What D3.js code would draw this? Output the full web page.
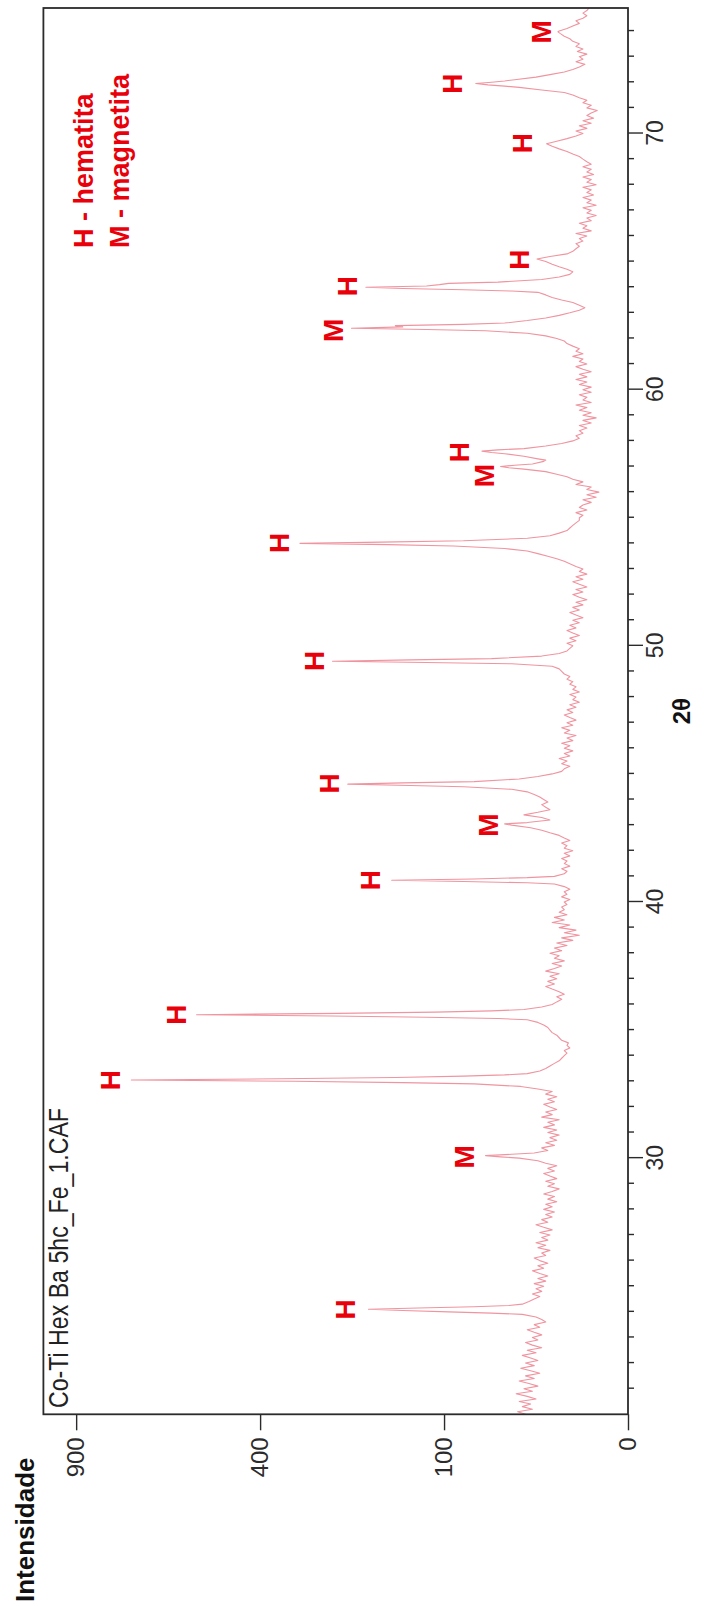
<!DOCTYPE html>
<html><head><meta charset="utf-8">
<script src="https://cdn.jsdelivr.net/npm/d3@7"></script>
<style>body{margin:0;background:#fff}svg{display:block}</style>
</head><body>
<svg id="c" width="707" height="1606"></svg>
<script>
// ---- data: 2θ (deg), intensity (counts) ----
const seg20 = [[20.0,31],[20.1,36],[20.2,27],[20.3,33],[20.4,28],[20.5,35],[20.6,25],[20.7,30],[20.8,37],[20.9,27],
[21.0,32],[21.1,24],[21.2,29],[21.3,35],[21.4,26],[21.5,31],[21.6,23],[21.7,28],[21.8,34],[21.9,26],
[22.0,31],[22.1,24],[22.2,28],[22.3,33],[22.4,25],[22.5,30],[22.6,22],[22.7,27],[22.8,31],[22.9,24],
[23.0,27],[23.1,22],[23.2,26],[23.3,30],[23.4,23],[23.5,26],[23.6,20],[23.7,22],[23.8,25],[23.9,33],
[23.95,55],[24.0,95],[24.05,150],[24.1,199],[24.15,130],[24.2,70],[24.25,42],[24.3,33],
[24.4,29],[24.5,26],[24.6,23],[24.7,27],[24.8,22],[24.9,25],
[25.0,21],[25.1,26],[25.2,20],[25.3,24],[25.4,19],[25.5,23],[25.6,27],[25.7,21],[25.8,24],[25.9,19],
[26.0,23],[26.1,26],[26.2,20],[26.3,22],[26.4,18],[26.5,24],[26.6,20],[26.7,25],[26.8,19],[26.9,22],
[27.0,18],[27.1,23],[27.2,17],[27.3,21],[27.4,25],[27.5,19],[27.6,22],[27.7,17],[27.8,20],[27.9,16],
[28.0,21],[28.1,17],[28.2,20],[28.3,15],[28.4,19],[28.5,16],[28.6,21],[28.7,17],[28.8,14],[28.9,19],
[29.0,16],[29.1,20],[29.2,15],[29.3,18],[29.4,21],[29.5,16],[29.6,19],[29.7,15],[29.8,20],[29.9,24]];
const seg30 = [[30.0,35],[30.05,48],[30.1,60],[30.15,40],[30.2,26],[30.3,19],[30.4,22],[30.5,16],[30.6,20],[30.7,15],[30.8,18],[30.9,14],
[31.0,19],[31.1,15],[31.2,21],[31.3,16],[31.4,19],[31.5,14],[31.6,22],[31.7,17],[31.8,20],[31.9,15],
[32.0,18],[32.1,21],[32.2,16],[32.3,19],[32.4,15],[32.5,20],[32.6,17],[32.7,24],[32.8,34],[32.9,70],[32.95,150],
[33.0,330],[33.05,729],[33.1,360],[33.15,160],[33.2,80],[33.25,45],[33.3,30],[33.4,23],[33.5,20],[33.6,18],[33.7,16],[33.8,14],[33.9,13],
[34.0,12],[34.1,11],[34.2,12],[34.3,10],[34.4,11],[34.5,10.5],[34.6,13],[34.7,14],[34.8,15],[34.9,17],
[35.0,18],[35.1,19],[35.2,21],[35.3,24],[35.4,30],[35.45,50],[35.5,120],[35.55,260],[35.6,550],[35.65,250],[35.7,110],[35.75,55],[35.8,32],[35.9,22],
[36.0,17],[36.1,15],[36.2,13],[36.3,15],[36.4,12],[36.5,14],[36.6,17],[36.7,20],[36.8,16],[36.9,19],
[37.0,15],[37.1,18],[37.2,14],[37.3,20],[37.4,16],[37.5,13],[37.6,17],[37.7,12],[37.8,16],[37.9,14],
[38.0,18],[38.1,13],[38.2,16],[38.3,11],[38.4,15],[38.5,9],[38.6,13],[38.7,7],[38.8,12],[38.9,8],
[39.0,14],[39.1,10],[39.2,17],[39.3,12],[39.4,16],[39.5,11],[39.6,14],[39.7,12],[39.8,13],[39.9,11]];
const seg40 = [[40.0,12],[40.1,10],[40.2,13],[40.3,11],[40.4,12],[40.5,10],[40.6,12],[40.7,16],[40.75,30],[40.8,80],[40.85,165],[40.9,70],[40.95,30],
[41.0,16],[41.1,12],[41.2,11],[41.3,13],[41.4,10],[41.5,12],[41.6,11],[41.7,13],[41.8,10],[41.9,12],
[42.0,9],[42.1,12],[42.2,11],[42.3,13],[42.4,10],[42.5,12],[42.6,14],[42.7,18],[42.8,22],[42.9,28],[43.0,40],[43.05,45],[43.1,30],
[43.2,18],[43.3,22],[43.4,32],[43.5,24],[43.6,18],[43.7,20],[43.8,22],[43.9,19],
[44.0,21],[44.1,23],[44.2,26],[44.3,30],[44.4,40],[44.5,80],[44.55,140],[44.6,232],[44.65,150],[44.7,70],[44.8,35],[44.9,24],
[45.0,17],[45.1,13],[45.2,12],[45.3,10],[45.4,13],[45.5,11],[45.6,14],[45.7,10],[45.8,12],[45.9,9],
[46.0,12],[46.1,10],[46.2,13],[46.3,9],[46.4,11],[46.5,8],[46.6,12],[46.7,10],[46.8,13],[46.9,9],
[47.0,11],[47.1,8],[47.2,10],[47.3,12],[47.4,9],[47.5,11],[47.6,8],[47.7,10],[47.8,7],[47.9,9],
[48.0,8],[48.1,10],[48.2,7],[48.3,9],[48.4,8],[48.5,10],[48.6,9],[48.7,11],[48.8,10],[48.9,12],
[49.0,13],[49.1,14],[49.2,17],[49.3,40],[49.35,120],[49.4,258],[49.45,140],[49.5,55],[49.6,22],[49.7,14],[49.8,11],[49.9,10]];
const seg50 = [[50.0,9],[50.1,11],[50.2,8],[50.3,10],[50.4,7],[50.5,9],[50.6,11],[50.7,8],[50.8,10],[50.9,7],
[51.0,9],[51.1,6],[51.2,8],[51.3,10],[51.4,7],[51.5,9],[51.6,6],[51.7,8],[51.8,5],[51.9,7],
[52.0,9],[52.1,6],[52.2,8],[52.3,5],[52.4,7],[52.5,9],[52.6,6],[52.7,8],[52.8,5],[52.9,7],
[53.0,6],[53.1,8],[53.2,10],[53.3,12],[53.4,15],[53.5,19],[53.6,24],[53.7,30],[53.8,45],[53.9,90],[53.95,170],
[54.0,318],[54.05,180],[54.1,80],[54.2,30],[54.3,18],[54.4,14],[54.5,11],[54.6,10],[54.7,9],[54.8,8],[54.9,7],
[55.0,7],[55.1,6],[55.2,8],[55.3,5],[55.4,7],[55.5,6],[55.6,4],[55.7,6],[55.8,3],[55.9,5],
[56.0,2.5],[56.1,5],[56.2,4],[56.3,8],[56.4,6],[56.5,9],[56.6,11],[56.7,15],[56.8,20],[56.9,32],[56.95,42],
[57.0,48],[57.05,38],[57.1,27],[57.2,21],[57.25,20],[57.3,24],[57.4,32],[57.5,45],[57.55,55],[57.6,63],[57.65,50],[57.7,32],[57.8,20],[57.9,13],
[58.0,9],[58.1,7],[58.2,8],[58.3,6],[58.4,7],[58.5,5],[58.6,7],[58.7,4],[58.8,6],[58.9,3],
[59.0,6],[59.1,4],[59.2,7],[59.3,5],[59.4,8],[59.5,4],[59.6,6],[59.7,5],[59.8,7],[59.9,4]];
const seg60 = [[60.0,6],[60.1,4],[60.2,7],[60.3,5],[60.4,8],[60.5,5],[60.6,7],[60.7,4],[60.8,6],[60.9,8],
[61.0,5],[61.1,7],[61.2,6],[61.3,9],[61.4,6],[61.5,8],[61.6,7],[61.7,9],[61.8,11],[61.9,12],
[62.0,15],[62.1,20],[62.2,30],[62.3,60],[62.35,120],[62.4,226],[62.45,150],[62.5,160],[62.55,80],[62.6,45],[62.7,30],[62.8,20],[62.9,14],
[63.0,10],[63.1,7],[63.2,5.5],[63.3,7],[63.4,9],[63.5,13],[63.6,17],[63.7,20],[63.8,24],[63.85,40],[63.9,80],[63.95,150],
[64.0,203],[64.05,120],[64.1,105],[64.15,95],[64.2,50],[64.3,22],[64.4,14],[64.5,10],[64.6,9],[64.7,11],[64.8,14],[64.9,17],
[65.0,20],[65.1,24.5],[65.2,18],[65.3,11],[65.4,9],[65.5,8],[65.6,7],[65.7,8],[65.8,6],[65.9,7],
[66.0,5],[66.1,8],[66.2,4],[66.3,6],[66.4,5],[66.5,7],[66.6,4],[66.7,5],[66.8,3],[66.9,5],
[67.0,4],[67.1,6],[67.2,3],[67.3,5],[67.4,4],[67.5,6],[67.6,3.5],[67.7,5],[67.8,4],[67.9,6],
[68.0,3],[68.1,5],[68.2,4],[68.3,6],[68.4,3.5],[68.5,5],[68.6,4],[68.7,6],[68.8,4],[68.9,5],
[69.0,6],[69.1,7],[69.2,9],[69.3,11],[69.4,14],[69.5,17],[69.6,19.6],[69.7,15],[69.8,11],[69.9,8]];
const seg70 = [[70.0,6],[70.1,8],[70.2,5],[70.3,7],[70.4,4],[70.5,6],[70.6,3.5],[70.7,5],[70.8,4],[70.9,2.8],
[71.0,5],[71.1,4],[71.2,6],[71.3,5],[71.4,7],[71.5,9],[71.6,12],[71.7,22],[71.8,35],[71.85,45],[71.9,58],[71.95,68.5],
[72.0,55],[72.05,45],[72.1,38],[72.2,25],[72.3,18],[72.4,12],[72.5,9],
[72.6,7],[72.7,5.5],[72.8,8],[72.9,6],[73.0,7],[73.1,5],[73.2,7.6],[73.3,6],[73.4,8],[73.5,7],[73.6,9],[73.7,10],[73.8,12],[73.9,13.5],
[73.97,14.5],[74.0,14],[74.1,11],[74.2,9],[74.3,7],[74.4,8],[74.5,6],[74.6,5],[74.7,6],[74.8,5],[74.9,4.5]];

const angleMajorTicks = [30, 40, 50, 60, 70];
const angleMinorTicks = [21,22,23,24,25,26,27,28,29,31,32,33,34,35,36,37,38,39,41,42,43,44,45,46,47,48,49,51,52,53,54,55,56,57,58,59,61,62,63,64,65,66,67,68,69,71,72,73,74];
const intensityTicks = [0, 100, 400, 900];
const peakText  = ['H','M','H','H','H','M','H','H','H','M','H','M','H','H','H','H','M'];
const peakAngle = [24.1,30.05,33.05,35.6,40.85,43.0,44.63,49.41,54.02,56.65,57.56,62.32,64.04,65.08,69.63,71.95,73.97];
const peakLevel = [220,70,763,577,182,50,247,273,339,53,75,240,217,28.7,27,81,17.7];
const legendItems = ['H - hematita', 'M - magnetita'];
const sampleName = 'Co-Ti Hex Ba 5hc_Fe_1.CAF';
const xTitle = '2θ', yTitle = 'Intensidade';

// ---- drawing ----
const W = 707, H = 1606;
const scan = seg20.concat(seg30, seg40, seg50, seg60, seg70);
const svg = d3.select('#c');
// chart drawn in a frame rotated -90deg: u (along 2θ) -> screen up, v -> screen x
const g = svg.append('g').attr('transform', `translate(0,${H}) rotate(-90)`);
const font = "'Liberation Sans', Arial, sans-serif";

const x = d3.scaleLinear().domain([20, 74.9]).range([H - 1414.3, H - 8]);
const y = d3.scaleSqrt().domain([0, 1010]).range([628, 43.4]);

// trace
g.append('path').datum(scan)
  .attr('d', d3.line().x(d => x(d[0])).y(d => y(d[1])))
  .attr('fill', 'none').attr('stroke', '#f0949f').attr('stroke-width', 1.1)
  .attr('stroke-linejoin', 'round');

// frame
g.append('rect')
  .attr('x', x(20)).attr('y', y(1010))
  .attr('width', x(74.9) - x(20)).attr('height', y(0) - y(1010))
  .attr('fill', 'none').attr('stroke', '#2b2b2b').attr('stroke-width', 1.8);

// 2θ axis (screen right)
const axMinor = g.append('g').attr('transform', `translate(0,${y(0)})`)
  .call(d3.axisBottom(x).tickValues(angleMinorTicks).tickSize(6).tickFormat(''));
const axMajor = g.append('g').attr('transform', `translate(0,${y(0)})`)
  .call(d3.axisBottom(x).tickValues(angleMajorTicks).tickSize(15).tickPadding(4).tickFormat(d3.format('d')));
[axMinor, axMajor].forEach(a => {
  a.select('.domain').remove();
  a.selectAll('line').attr('stroke', '#2b2b2b').attr('stroke-width', 1.4);
  a.selectAll('text').attr('font-family', font).attr('font-size', 23).attr('fill', '#2b2b2b');
});

// intensity axis (screen bottom)
const ay = g.append('g').attr('transform', `translate(${x(20)},0)`)
  .call(d3.axisLeft(y).tickValues(intensityTicks).tickSize(16).tickPadding(7).tickFormat(d3.format('d')));
ay.select('.domain').remove();
ay.selectAll('line').attr('stroke', '#2b2b2b').attr('stroke-width', 1.4);
ay.selectAll('text').attr('font-family', font).attr('font-size', 24).attr('fill', '#2b2b2b');

// axis titles
g.append('text').attr('x', (x(20) + x(74.9)) / 2).attr('y', 690)
  .attr('text-anchor', 'middle').attr('font-family', font).attr('font-weight', 'bold')
  .attr('font-size', 24).attr('fill', '#111').text(xTitle);
g.append('text').attr('x', 4).attr('y', 34)
  .attr('font-family', font).attr('font-weight', 'bold')
  .attr('font-size', 26).attr('fill', '#111').text(yTitle);

// sample name
g.append('text').attr('x', H - 1408).attr('y', 68)
  .attr('font-family', font).attr('font-size', 27).attr('fill', '#222')
  .attr('textLength', 300).attr('lengthAdjust', 'spacingAndGlyphs').text(sampleName);

// legend
g.selectAll('text.leg').data(legendItems).join('text').attr('class', 'leg')
  .attr('x', H - 248).attr('y', (d, i) => 93 + i * 36)
  .attr('font-family', font).attr('font-weight', 'bold').attr('font-size', 27)
  .attr('fill', '#e8000b').text(d => d);

// peak labels
g.selectAll('text.pk').data(peakText).join('text').attr('class', 'pk')
  .attr('x', (d, i) => x(peakAngle[i])).attr('y', (d, i) => y(peakLevel[i]))
  .attr('text-anchor', 'middle').attr('font-family', font).attr('font-weight', 'bold')
  .attr('font-size', 28).attr('fill', '#e8000b').text(d => d);
</script>
</body></html>
